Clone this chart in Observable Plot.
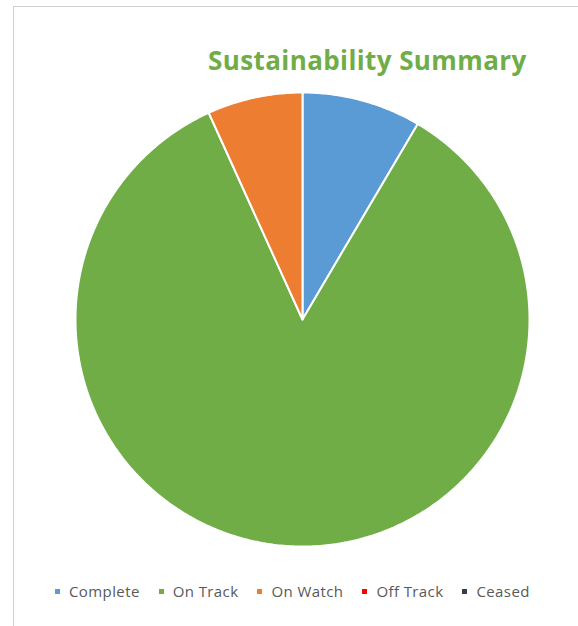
<!DOCTYPE html>
<html>
<head>
<meta charset="utf-8">
<script src="https://cdn.jsdelivr.net/npm/d3@7"></script>
<script src="https://cdn.jsdelivr.net/npm/@observablehq/plot@0.6"></script>
<style>
  html, body { margin: 0; padding: 0; background: #fff; }
  #frame { position: relative; width: 578px; height: 626px; overflow: hidden; background: #fff; }
  #border { position: absolute; left: 13px; top: 6px; right: -2px; bottom: -2px; border: 1px solid #d0d0d0; box-sizing: border-box; }
  #title { position: absolute; left: 208px; top: 42px; font-family: "Open Sans", sans-serif; font-weight: bold; font-size: 26px; color: #70AD47; white-space: nowrap; letter-spacing: 0.4px; }
  #chart { position: absolute; left: 0; top: 89px; }
  #legend { position: absolute; left: 55px; top: 581px; display: flex; font-family: "Open Sans", sans-serif; font-size: 15px; color: #595959; white-space: nowrap; letter-spacing: 0.4px; }
  .item { display: flex; align-items: center; margin-right: 19px; }
  .sw { width: 5px; height: 5px; margin-right: 9px; }
</style>
</head>
<body>
<div id="frame">
  <div id="border"></div>
  <div id="title">Sustainability Summary</div>
  <div id="chart"></div>
  <div id="legend"></div>
</div>
<script>
const categories = ["Complete", "On Track", "On Watch", "Off Track", "Ceased"];
const values = [5, 50, 4, 0, 0];
const colors = ["#5B9BD5", "#70AD47", "#ED7D31", "#FF0000", "#333F50"];

const data = categories.map((c, i) => ({category: c, value: values[i]}));
const arcs = d3.pie().value(d => d.value).sort(null)(data);

// build slice outlines (unit circle coords) from pie angles
const pts = [];
for (const a of arcs) {
  if (a.endAngle - a.startAngle <= 0) continue;
  const c = a.data.category;
  pts.push({category: c, x: 0, y: 0});
  const n = Math.max(2, Math.ceil((a.endAngle - a.startAngle) / 0.01));
  for (let k = 0; k <= n; k++) {
    const t = a.startAngle + (a.endAngle - a.startAngle) * k / n;
    pts.push({category: c, x: Math.sin(t), y: Math.cos(t)});
  }
  pts.push({category: c, x: 0, y: 0});
}

const chart = Plot.plot({
  width: 578,
  height: 460,
  marginLeft: 75,
  marginRight: 49,
  marginTop: 3,
  marginBottom: 3,
  x: {domain: [-1, 1], axis: null},
  y: {domain: [-1, 1], axis: null},
  color: {domain: categories, range: colors},
  marks: [
    Plot.line(pts, {x: "x", y: "y", z: "category", fill: "category", stroke: "white", strokeWidth: 2, strokeLinejoin: "miter", curve: "linear"})
  ]
});
document.getElementById("chart").appendChild(chart);

const legend = document.getElementById("legend");
const colorScale = chart.scale("color");
categories.forEach(c => {
  const it = document.createElement("div");
  it.className = "item";
  const sw = document.createElement("span");
  sw.className = "sw";
  sw.style.background = colorScale.apply(c);
  it.appendChild(sw);
  const tx = document.createElement("span");
  tx.textContent = c;
  it.appendChild(tx);
  legend.appendChild(it);
});
</script>
</body>
</html>
